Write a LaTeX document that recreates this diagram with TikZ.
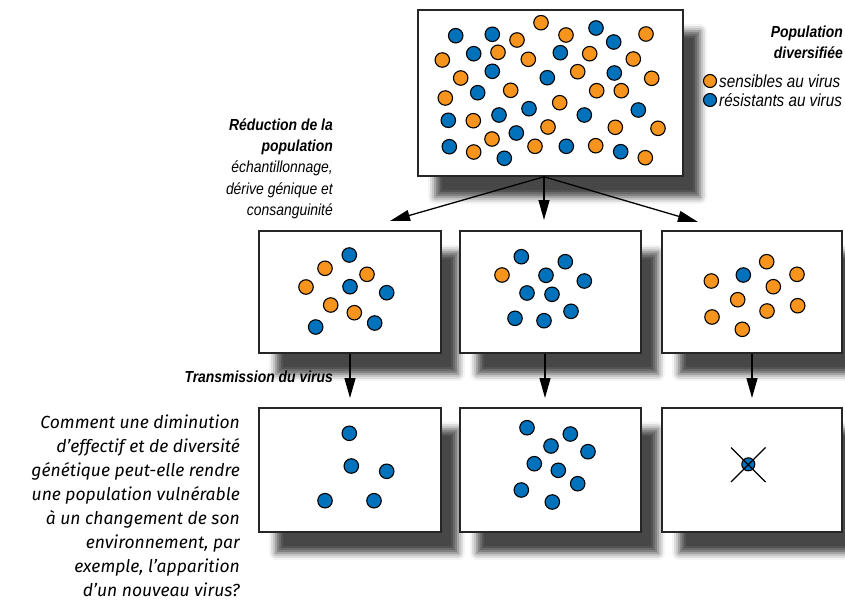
\documentclass[tikz,border=0pt]{standalone}
\usepackage{fontspec}
\setmainfont{Liberation Sans}
\newfontfamily\condf[FakeStretch=0.87]{Liberation Sans}
\newfontfamily\qf{Fira Sans}
\usetikzlibrary{arrows.meta,shadows.blur}
\definecolor{orgc}{HTML}{F7941E}
\definecolor{bluc}{HTML}{0072BC}
\tikzset{
  box/.style={draw=black!85, line width=1.5pt, fill=white, inner sep=0pt,
    blur shadow={shadow xshift=17pt, shadow yshift=-21pt, shadow blur radius=7pt, shadow opacity=72}},
  dotc/.style={circle, draw=black, line width=1.1pt, minimum size=14.5pt, inner sep=0pt},
  od/.style={dotc, fill=orgc},
  bd/.style={dotc, fill=bluc},
  arr/.style={line width=1.3pt, -{Triangle[length=20pt,width=11pt]}},
  lbl/.style={font=\condf\fontsize{16}{21.3}\selectfont\itshape, align=right, inner sep=0pt},
  lgd/.style={font=\condf\fontsize{17.5}{19}\selectfont\itshape, inner sep=0pt},
  lblb/.style={font=\condf\fontsize{16}{21}\selectfont\itshape\bfseries, align=right, inner sep=0pt},
  qtxt/.style={font=\qf\fontsize{17.5}{23.9}\selectfont\itshape, align=right, inner sep=0pt}
}
\begin{document}
\begin{tikzpicture}[x=1pt,y=-1pt]
\useasboundingbox (0,0) rectangle (845,605);
% boxes
\node[box, minimum width=265pt, minimum height=166pt] (top) at (550.5,93) {};
\node[box, minimum width=182pt, minimum height=122pt] (m1) at (350,292) {};
\node[box, minimum width=181pt, minimum height=122pt] (m2) at (550.5,292) {};
\node[box, minimum width=180pt, minimum height=122pt] (m3) at (752,292) {};
\node[box, minimum width=182pt, minimum height=124pt] (b1) at (350,470) {};
\node[box, minimum width=181pt, minimum height=124pt] (b2) at (550.5,470) {};
\node[box, minimum width=180pt, minimum height=124pt] (b3) at (752,470) {};
% top box dots
\foreach \c/\x/\y [count=\i] in {
 od/541/22.7, bd/455.7/35.7, bd/492.3/34.3, od/517/40, od/566/35, bd/596/28, od/646/34, bd/613.7/42,
 od/442.3/60, bd/473.7/53.7, od/498/52.3, od/528.3/59.3, bd/560.3/52.7, od/589.7/53.7, od/633.3/59,
 od/460.7/78, bd/492.3/71.3, bd/547.3/77.7, od/577.7/71.7, bd/614.3/73, od/651.7/78.3,
 od/445.3/98, bd/477.7/92.7, od/510.7/90.3, od/596.7/90.7, od/621.3/90.7,
 bd/529/108.7, od/559.7/102.7, bd/448.3/120.3, od/473.3/120.7, bd/499/115, bd/584.3/115, bd/638.3/110,
 od/548/127, od/615.3/127.3, od/658/128.3, bd/516.3/133, od/492/139,
 bd/449.3/146.7, od/473.7/152, od/535/146.3, bd/566.3/146.3, od/595.7/145.7, bd/620.7/151.7,
 od/645.3/157.7, bd/504.3/158.3}
 \node[\c] (t\i) at (\x,\y) {};
% middle box 1
\foreach \c/\x/\y [count=\i] in {
 bd/349.3/255, od/325/268.3, od/367/274.3, od/306/287, bd/350/286.7, bd/386.7/292.7,
 od/330.7/305, od/354.3/312.7, bd/315.7/327, bd/374.7/323}
 \node[\c] (ma\i) at (\x,\y) {};
% middle box 2
\foreach \c/\x/\y [count=\i] in {
 bd/521.3/256.7, bd/565.3/261.7, od/502/275, bd/546/275.3, bd/584.3/281,
 bd/527/293, bd/552/294.3, bd/515/318.3, bd/544/320.7, bd/571/311.3}
 \node[\c] (mb\i) at (\x,\y) {};
% middle box 3
\foreach \c/\x/\y [count=\i] in {
 od/766.7/261.7, bd/743.3/275, od/711.3/281, od/797/274.3, od/773.3/286.7,
 od/737.7/299.7, od/712/317, od/767/311, od/797.7/305.7, od/742.3/329.3}
 \node[\c] (mc\i) at (\x,\y) {};
% bottom box 1
\foreach \x/\y [count=\i] in {349.3/433.3, 351.3/466, 386.7/471.3, 325/500.7, 374/500.7}
 \node[bd] (ba\i) at (\x,\y) {};
% bottom box 2
\foreach \x/\y [count=\i] in {527/427.7, 570.3/434, 551/446, 588/451.7, 534.3/463.7,
 558.3/470.3, 577.7/483.7, 521.3/490, 552.3/502}
 \node[bd] (bb\i) at (\x,\y) {};
% bottom box 3: crossed dot
\node[bd, minimum size=13pt] (bc1) at (748.3,464.3) {};
\draw[line width=1.2pt] (731,447.5) -- (765.5,482) (765.5,447.5) -- (731,482);
% arrows
\coordinate (e1) at (390,221);
\coordinate (e2) at (544,220);
\coordinate (e3) at (698,222);
\draw[arr] (top.south -| e2) -- (e1);
\draw[arr] (top.south -| e2) -- (e2);
\draw[arr] (top.south -| e2) -- (e3);
\coordinate (f1) at (350,398);
\coordinate (f2) at (545,398);
\coordinate (f3) at (752,398);
\draw[arr] (m1.south -| f1) -- (f1);
\draw[arr] (m2.south -| f2) -- (f2);
\draw[arr] (m3.south -| f3) -- (f3);
% labels
\node[lblb, anchor=north east] (pop) at (843,26) {Population\\diversifiée};
\node[od, minimum size=13pt] (lo) at (710,81) {};
\node[bd, minimum size=13pt] (lb) at (710,100) {};
\node[lgd, anchor=west] (los) at (719,81) {sensibles au virus};
\node[lgd, anchor=west] (lbs) at (719,100) {résistants au virus};
\node[lblb, anchor=north east] (red) at (333,119) {Réduction de la\\population};
\node[lbl, anchor=north east] (ech) at (333,161) {échantillonnage,\\dérive génique et\\consanguinité};
\node[lblb, anchor=east] (trans) at (333,377) {Transmission du virus};
\node[qtxt, anchor=north east] (q) at (240,415) {Comment une diminution\\d’effectif et de diversité\\génétique peut-elle rendre\\une population vulnérable\\à un changement de son\\environnement, par\\exemple,  l’apparition\\d’un nouveau virus?};
\end{tikzpicture}
\end{document}
